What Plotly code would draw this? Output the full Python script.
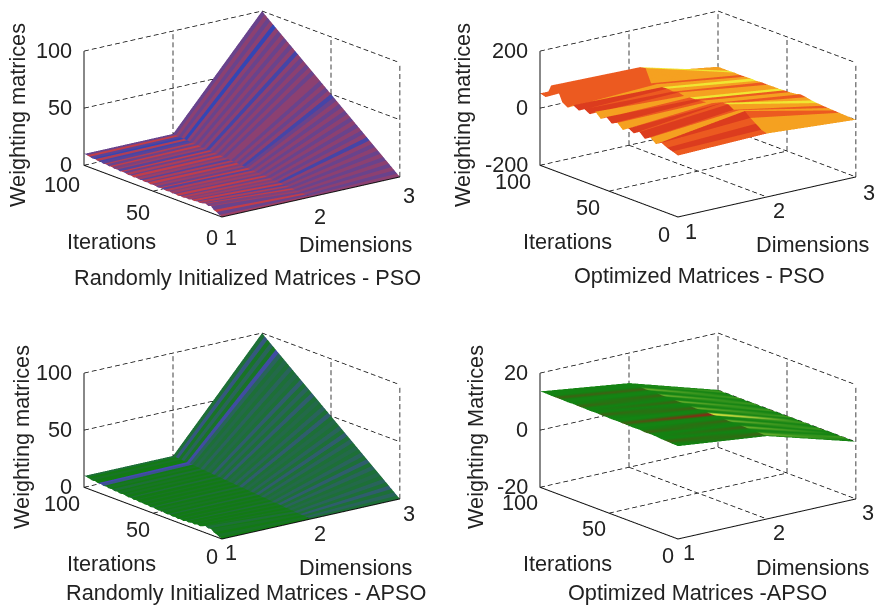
import plotly.graph_objects as go

W, H = 880, 606
dims = [1, 2, 3]
iters_a = list(range(0, 101, 2))
iters_b = list(range(0, 101, 4))

# Panel A: randomly initialised, PSO
a_z1 = [0.3,0.9,2.6,3.4,5.8,5.1,6.3,5.6,4.9,5.5,4.8,5.2,4.4,4.9,4.2,4.6,4.1,4.8,4.3,5.0,4.5,4.9,5.4,4.8,5.2,5.5,5.1,5.8,5.3,5.9,5.6,6.2,5.7,6.4,6.0,6.6,6.9,6.5,7.2,6.8,7.6,7.3,8.0,7.6,8.5,8.2,9.0,8.6,9.3,9.7,10.0]
a_z2 = [0.1,0.2,0.4,0.6,0.7,0.9,1.2,1.3,1.6,1.7,1.9,2.2,2.4,2.5,2.8,2.9,3.2,3.4,3.5,3.8,3.9,4.2,4.3,4.6,4.8,4.9,5.2,5.4,5.6,5.7,6.0,6.2,6.3,6.6,6.8,7.0,7.2,7.3,7.6,7.8,7.9,8.2,8.4,8.6,8.8,8.9,9.2,9.4,9.6,9.8,10.0]
a_z3 = [0,2,4,6,8,10,12,14,16,18,20,22,24,26,28,30,32,34,36,38,40,42,44,46,48,50,52,54,56,58,60,62,64,66,68,70,72,74,76,78,80,82,84,86,88,90,92,94,96,98,100]
# Panel C: randomly initialised, APSO
c_z1 = [0.2,0.8,2.2,3.1,5.2,4.6,5.8,4.8,3.9,4.6,3.7,4.2,3.4,3.9,3.0,3.6,3.1,3.8,3.3,4.0,3.6,4.0,4.6,4.0,4.4,4.9,4.4,5.2,4.8,5.4,5.1,5.8,5.3,6.1,5.7,6.3,6.7,6.2,7.0,6.6,7.4,7.1,7.9,7.5,8.4,8.1,8.9,8.5,9.2,9.7,10.0]
c_z2 = a_z2
c_z3 = a_z3
# Panel B: optimised, PSO
b_z1 = [15,22,28,38,26,42,30,47,35,45,32,50,40,56,42,60,44,55,42,54,38,50,96,94,46,52]
b_z2 = [22,28,42,55,72,68,62,74,72,60,56,52,50,48,47,45,50,46,49,47,50,46,92,88,60,52]
b_z3 = [0,1,2,3,4,5,6,8,10,14,17,12,10,9,8,8,7,8,6,7,6,5,6,5,5,5]
# Panel D: optimised, APSO
d_z1 = [12.5,12.6,12.7,12.8,13.0,13.1,13.0,13.2,13.1,13.2,13.2,13.3,13.2,13.3,13.3,13.4,13.3,13.4,13.4,13.5,13.4,13.5,13.5,13.5,13.6,13.6]
d_z2 = [9.0,9.1,9.2,9.2,9.3,9.3,9.4,9.3,9.4,9.5,9.4,9.5,9.5,9.4,9.5,9.6,9.5,9.5,9.6,9.5,9.6,9.6,9.5,9.6,9.6,9.5]
d_z3 = [0.0,0.0,0.1,0.0,0.1,0.1,0.0,0.1,0.0,0.1,0.0,0.1,0.1,0.0,0.1,0.0,0.1,0.0,0.1,0.1,0.0,0.1,0.0,0.1,0.0,0.1]

# facet colour levels, one digit per row: left strip (1-2), right strip (2-3)
a_l = "6383648372" + "8364738364" + "7283648372" + "6483738264" + "83721702836"
a_r = "5353535353" + "5153535353" + "5353153535" + "5353535153" + "53535053535"
c_l = "0101020101" + "0102010102" + "0101020101" + "0102010102" + "01079001020"
c_r = "2425242324" + "2524232425" + "2423252423" + "2524252324" + "23248141625"
b_l = "21213" + "21212" + "32123" + "21213" + "22222" + "2"
b_r = "33323" + "23432" + "33243" + "32343" + "23433" + "3"
# vertex colour levels for panel D, columns x=1, x=2 (left side), x=2 (right side), x=3
d_c1 = "33233" + "32333" + "23332" + "33323" + "33233" + "3"
d_c2 = "32332" + "33233" + "03323" + "32332" + "33233" + "3"
d_c2r = "35335" + "33533" + "93353" + "35335" + "33533" + "3"
d_c3 = "33433" + "34334" + "33433" + "43343" + "34334" + "3"

scale_rb = [[0, "#3446b4"], [1, "#d23c3c"]]
scale_gb = [[0, "#127a14"], [1, "#4646b4"]]
scale_auto = [[0, "#8c1e14"], [0.25, "#dc3c1e"], [0.5, "#ec5a20"], [0.75, "#f5a020"], [1, "#f0e632"]]
scale_gr = [[0, "#961e14"], [0.33, "#128212"], [0.66, "#a0c83c"], [1, "#f0e632"]]

panels = [
 dict(key="scene", zs=(a_z1,a_z2,a_z3), cs=(a_l,a_r), ys=iters_a, cmax=9, scale=scale_rb,
      zr=[0,100], zt=[0,50,100], c=(241.5,114), ztitle="Weighting matrices", zx=17,
      sub=("Randomly Initialized Matrices - PSO",248,277), it=(111,241), di=(355,244), yl=[(62,185),(138,212),(212,237)], xl=[(231,237),(320,217),(409,195)]),
 dict(key="scene2", zs=(b_z1,b_z2,b_z3), cs=(b_l,b_r), ys=iters_b, cmax=4, scale=scale_auto,
      zr=[-200,200], zt=[-200,0,200], c=(698,114), ztitle="Weighting matrices", zx=462,
      sub=("Optimized Matrices - PSO",699,275), it=(567,241), di=(812,244), yl=[(513,182),(588,208),(664,235)], xl=[(691,231),(779,211),(869,192)]),
 dict(key="scene3", zs=(c_z1,c_z2,c_z3), cs=(c_l,c_r), ys=iters_a, cmax=9, scale=scale_gb,
      zr=[0,100], zt=[0,50,100], c=(241.5,436), ztitle="Weighting matrices", zx=21,
      sub=("Randomly Initialized Matrices - APSO",246,592), it=(111,563), di=(355,567), yl=[(62,503),(138,529),(212,556)], xl=[(231,552),(320,533),(409,513)]),
 dict(key="scene4", zs=(d_z1,d_z2,d_z3), cs=(d_c1,d_c2,d_c2r,d_c3), ys=iters_b, cmax=9, scale=scale_gr,
      zr=[-20,20], zt=[-20,0,20], c=(698,436), ztitle="Weighting Matrices", zx=475,
      sub=("Optimized Matrices -APSO",697,592), it=(567,563), di=(812,567), yl=[(520,502),(594,528),(668,555)], xl=[(689,552),(779,532),(868,512)]),
]

font = "Liberation Sans"
fs = 21.7
ink = "#222222"
EPS = 0.001
fig = go.Figure()
paper_ann = []

def paper(text, x, y, angle=0):
    paper_ann.append(dict(text=text, x=x/W, y=1-y/H, xref="paper", yref="paper", showarrow=False,
                          xanchor="center", yanchor="middle", textangle=angle,
                          font=dict(family=font, size=fs, color=ink)))

def dashed(a, b, n):
    """Split the segment a-b into n dash cycles (5 on, 3 off)."""
    xs, ys, zs = [], [], []
    for i in range(n):
        for t in (i/n, (i+0.62)/n):
            xs.append(a[0]+(b[0]-a[0])*t); ys.append(a[1]+(b[1]-a[1])*t); zs.append(a[2]+(b[2]-a[2])*t)
        xs.append(None); ys.append(None); zs.append(None)
    return xs, ys, zs

for p in panels:
    k = p["key"]
    rows = p["ys"]
    z1s, z2s, z3s = p["zs"]
    xg = [dims[0], dims[1]-EPS, dims[1], dims[2]]
    if len(p["cs"]) == 2:
        # flat facets: every quad keeps one colour, so grid lines are doubled
        yg, z, col = [], [], []
        for i in range(len(rows)-1):
            cl, cr = int(p["cs"][0][i]), int(p["cs"][1][i])
            for j, yv in ((i, rows[i]), (i+1, rows[i+1]-EPS)):
                yg.append(yv)
                z.append([z1s[j], z2s[j], z2s[j], z3s[j]])
                col.append([cl, cl, cr, cr])
    else:
        yg = rows
        z = [[z1s[i], z2s[i], z2s[i], z3s[i]] for i in range(len(rows))]
        col = [[int(c[i]) for c in p["cs"]] for i in range(len(rows))]
    fig.add_trace(go.Surface(x=xg, y=yg, z=z, surfacecolor=col, cmin=0, cmax=p["cmax"], colorscale=p["scale"],
                             showscale=False, scene=k, hoverinfo="skip",
                             lighting=dict(ambient=1, diffuse=0, specular=0, roughness=1, fresnel=0)))

    z0, zm, z1 = p["zt"]
    gx, gy, gz = [], [], []
    segs = []
    for zv in p["zt"]:
        segs.append(((1, 100, zv), (3, 100, zv), 23))
        segs.append(((3, 100, zv), (3, 0, zv), 19))
    for xv, yv in [(2, 100), (3, 100), (3, 50), (3, 0)]:
        segs.append(((xv, yv, z0), (xv, yv, z1), 14))
    segs.append(((2, 100, z0), (2, 0, z0), 19))
    segs.append(((1, 50, z0), (3, 50, z0), 23))
    for a, b, n in segs:
        xs, ys, zs = dashed(a, b, n)
        gx += xs; gy += ys; gz += zs
    fig.add_trace(go.Scatter3d(x=gx, y=gy, z=gz, mode="lines", scene=k, hoverinfo="skip", showlegend=False,
                               line=dict(color="#000000", width=1.5)))
    fig.add_trace(go.Scatter3d(x=[1, 1, 1, 3], y=[100, 100, 0, 0], z=[z1, z0, z0, z0], mode="lines", scene=k,
                               hoverinfo="skip", showlegend=False, line=dict(color="#111111", width=2)))

    ann = []
    for zv in p["zt"]:
        ann.append(dict(text=str(zv), x=1, y=100, z=zv, showarrow=False, xanchor="right", yanchor="middle",
                        xshift=-10, yshift=1, font=dict(family=font, size=fs, color=ink)))
    scene_layout = dict(
        domain=dict(x=[(p["c"][0]-175)/W, (p["c"][0]+175)/W], y=[1-(p["c"][1]+114)/H, 1-(p["c"][1]-114)/H]),
        camera=dict(projection=dict(type="orthographic"), eye=dict(x=-1.17, y=-1.51, z=0.58),
                    up=dict(x=0, y=0, z=1), center=dict(x=0, y=0, z=0)),
        aspectmode="manual", aspectratio=dict(x=1.975, y=1.975, z=1.047),
        annotations=ann,
        xaxis=dict(range=[1, 3], visible=False),
        yaxis=dict(range=[0, 100], visible=False),
        zaxis=dict(range=p["zr"], visible=False),
    )
    fig.update_layout(**{k: scene_layout})

    for txt, (tx, ty) in zip([100, 50, 0], p["yl"]):
        paper(str(txt), tx, ty)
    for txt, (tx, ty) in zip([1, 2, 3], p["xl"]):
        paper(str(txt), tx, ty)
    paper("Iterations", *p["it"])
    paper("Dimensions", *p["di"])
    paper(p["sub"][0], p["sub"][1], p["sub"][2])
    paper(p["ztitle"], p["zx"], p["c"][1]+1, angle=-90)

fig.update_layout(width=W, height=H, margin=dict(l=0, r=0, t=0, b=0), paper_bgcolor="white",
                  showlegend=False, annotations=paper_ann)
fig.write_html("out.html", post_script="document.body.style.margin='0';", config=dict(displayModeBar=False))
